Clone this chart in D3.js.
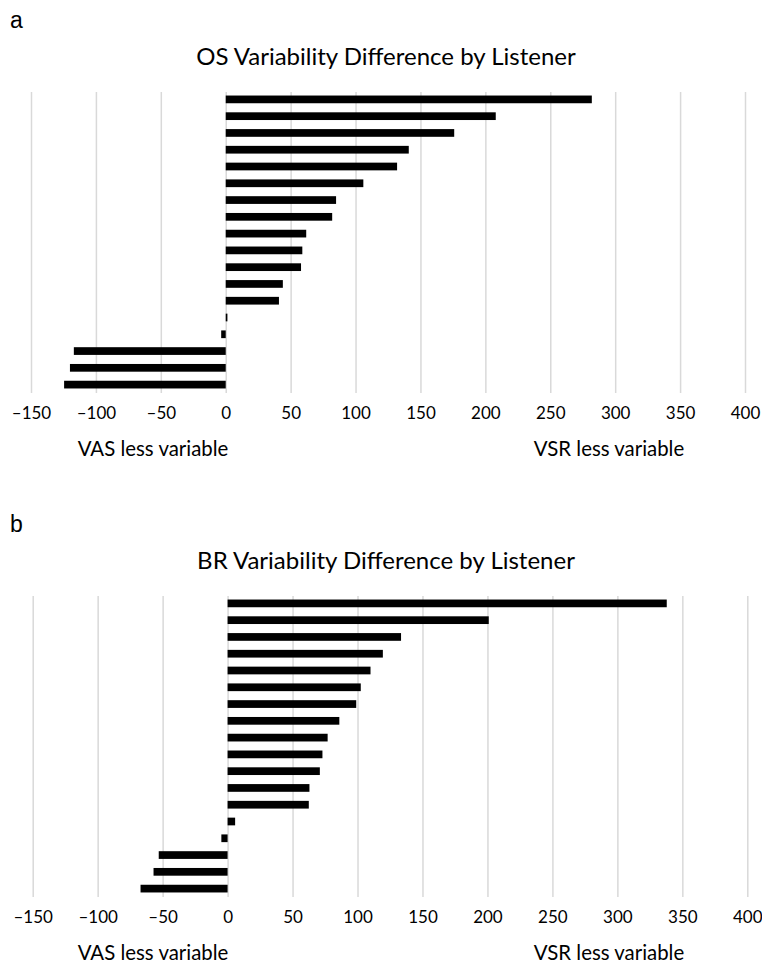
<!DOCTYPE html>
<html><head><meta charset="utf-8">
<script src="https://cdn.jsdelivr.net/npm/d3@7"></script>
<style>body{margin:0;background:#fff}</style>
</head><body>
<script>
const listeners = d3.range(1, 19).map(i => "L" + i);
const osValues = [282, 208, 176, 141, 132, 106, 85, 82, 62, 59, 58, 44, 41, 1.3, -3.5, -117, -120, -124.5];
const brValues = [338, 201, 133.5, 119.5, 110, 102.5, 99, 86, 77, 73, 71, 63, 62.5, 5.8, -4.8, -53, -57, -67];
const tickValues = [-150, -100, -50, 0, 50, 100, 150, 200, 250, 300, 350, 400];
const titles = ["OS Variability Difference by Listener", "BR Variability Difference by Listener"];
const panelLetters = ["a", "b"];
const sideLabels = ["VAS less variable", "VSR less variable"];

const W = 762, H = 964;
const svg = d3.select("body").append("svg").attr("width", W).attr("height", H);
const font = "Lato, 'Open Sans', sans-serif";

function panel(values, title, letter, yOff, x0, x1) {
  const g = svg.append("g").attr("transform", `translate(0,${yOff})`);
  const x = d3.scaleLinear().domain([-150, 400]).range([x0, x1]);
  const y = d3.scaleBand().domain(listeners).range([91, 393]).paddingInner(0.54).paddingOuter(0.27);
  g.append("text").attr("x", 10).attr("y", 28).attr("font-family", "'Liberation Sans', Arial, sans-serif")
    .attr("font-size", 23).attr("fill", "#000").text(letter);
  g.append("text").attr("x", 386).attr("y", 65).attr("text-anchor", "middle")
    .attr("font-family", font).attr("font-size", 24).attr("fill", "#000").text(title);
  const grid = g.append("g").attr("transform", "translate(0,92)")
    .call(d3.axisBottom(x).tickValues(tickValues).tickSize(301).tickFormat(""));
  grid.select(".domain").remove();
  grid.selectAll(".tick line").attr("stroke", "#d9d9d9").attr("stroke-width", 1.5);
  g.selectAll("rect.bar").data(values).join("rect").attr("class", "bar")
    .attr("x", d => x(Math.min(0, d)))
    .attr("width", d => Math.abs(x(d) - x(0)))
    .attr("y", (d, i) => y(listeners[i]))
    .attr("height", y.bandwidth())
    .attr("fill", "#000");
  const ax = g.append("g").attr("transform", "translate(0,404)")
    .call(d3.axisBottom(x).tickValues(tickValues).tickSize(0).tickPadding(0)
      .tickFormat(d => d < 0 ? "\u2013" + Math.abs(d) : d));
  ax.select(".domain").remove();
  ax.selectAll("text").attr("font-family", font).attr("font-size", 17).attr("fill", "#000").attr("dy", "0.9em");
  g.append("text").attr("x", 153).attr("y", 456).attr("text-anchor", "middle")
    .attr("font-family", font).attr("font-size", 20.4).attr("fill", "#000").text(sideLabels[0]);
  g.append("text").attr("x", 609).attr("y", 456).attr("text-anchor", "middle")
    .attr("font-family", font).attr("font-size", 20.4).attr("fill", "#000").text(sideLabels[1]);
}
panel(osValues, titles[0], panelLetters[0], 0, 31, 745);
panel(brValues, titles[1], panelLetters[1], 504, 32.7, 747.3);
</script>
</body></html>
